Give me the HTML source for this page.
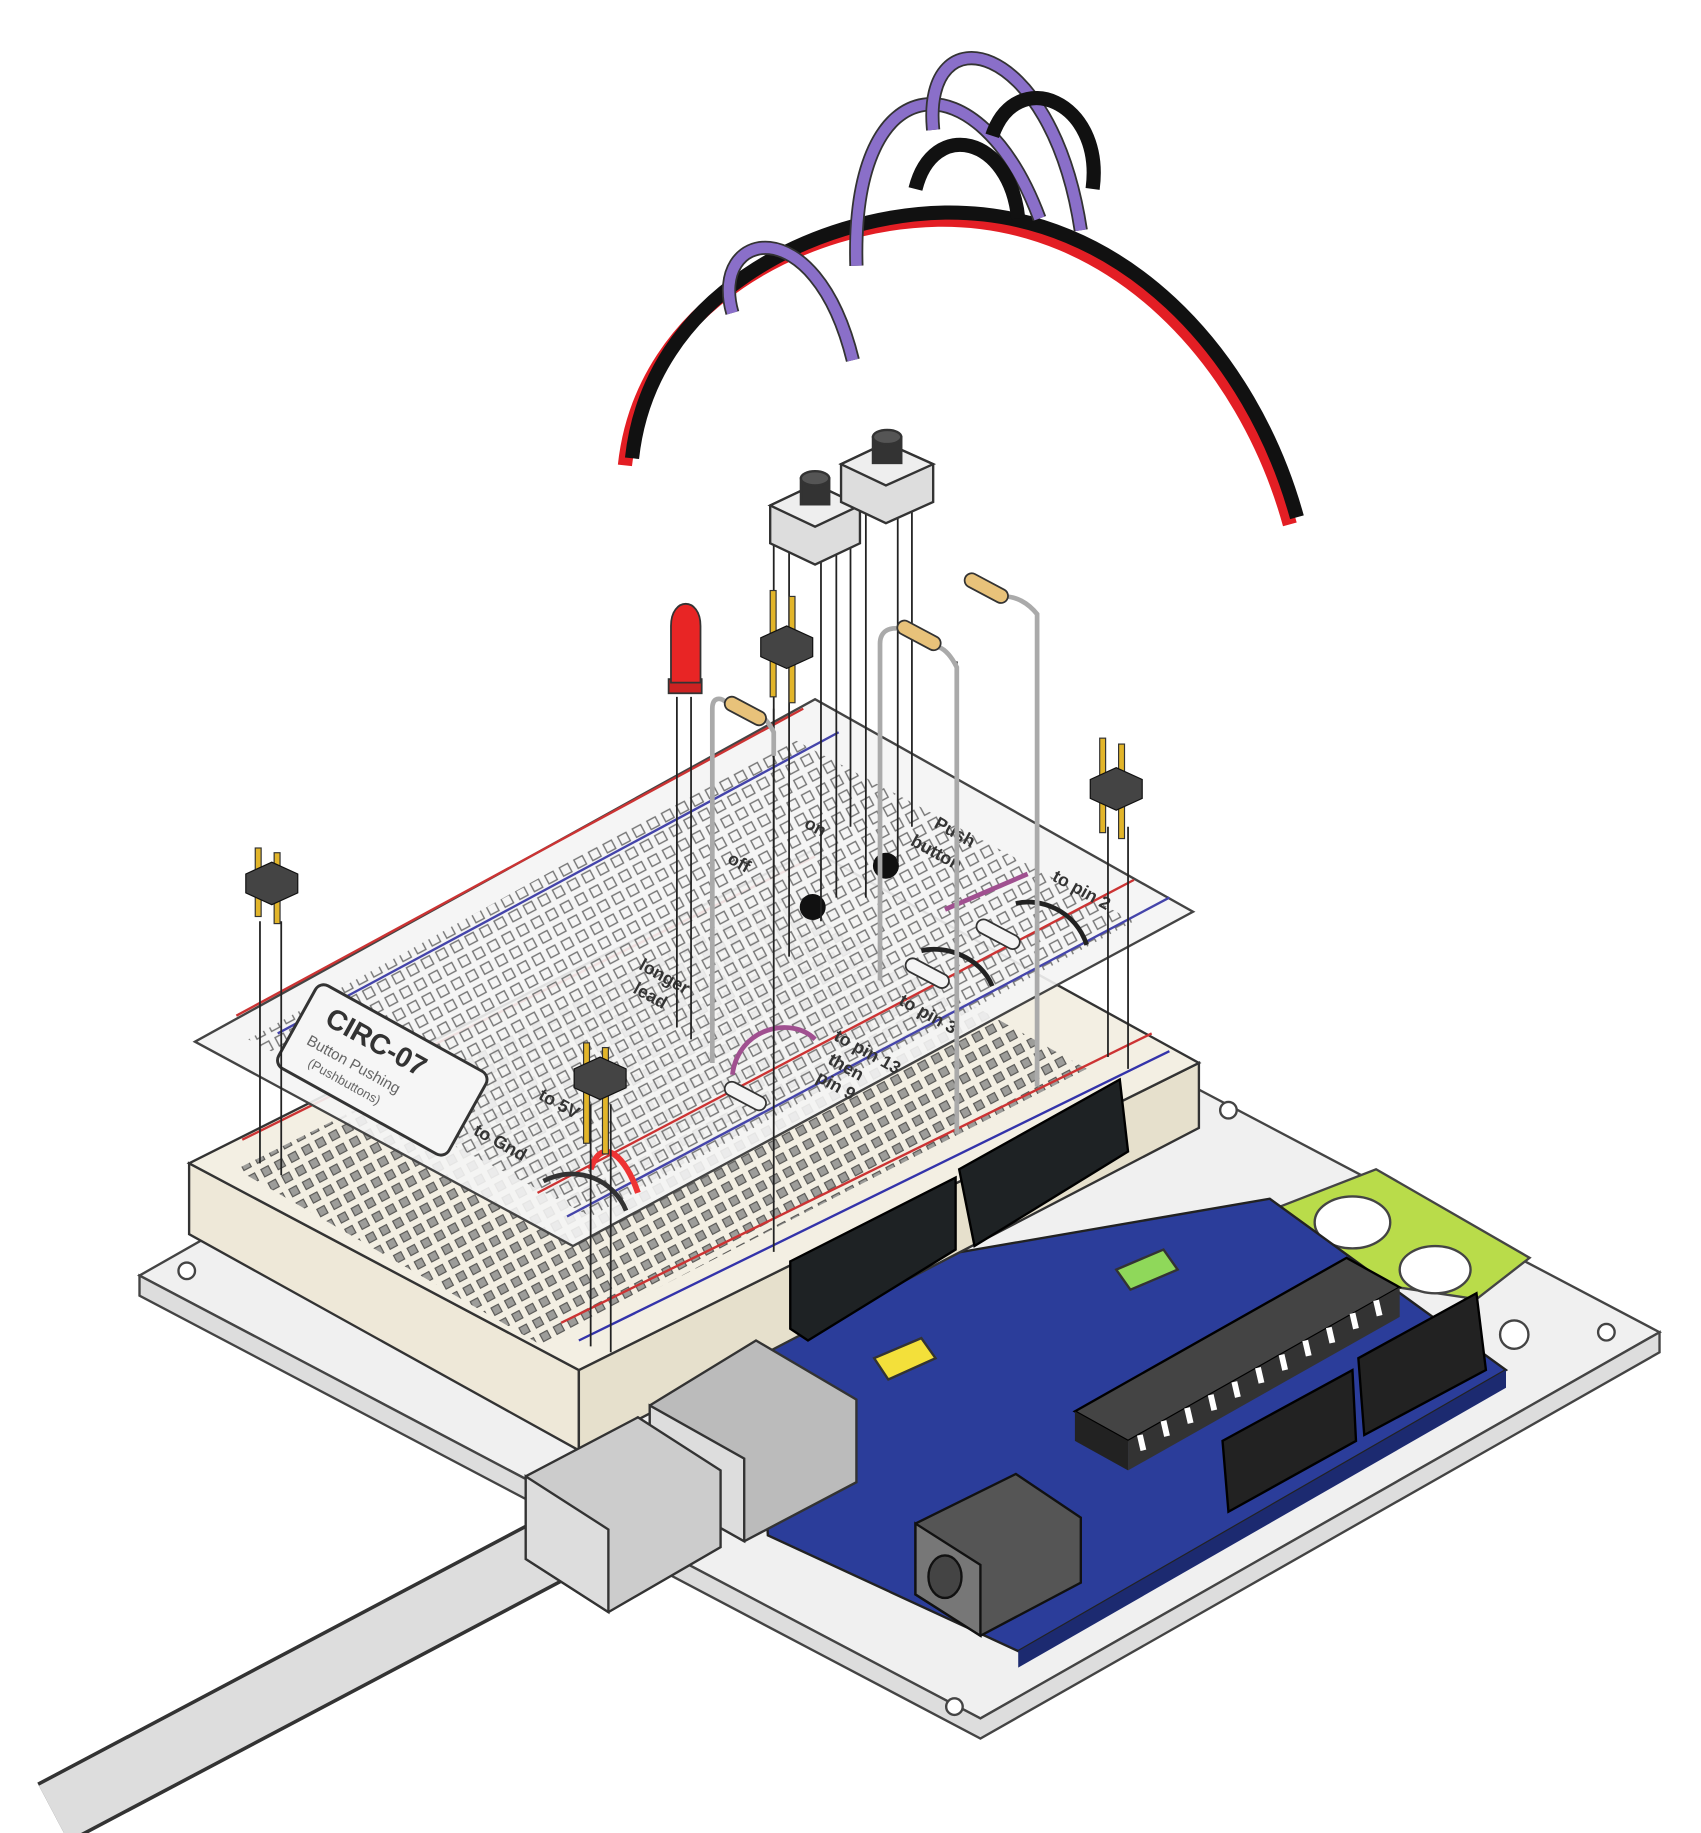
<!DOCTYPE html>
<html><head><meta charset="utf-8"><style>
html,body{margin:0;padding:0;background:#fff;}
svg{display:block;}
text{font-family:"Liberation Sans",sans-serif;}
</style></head><body>
<svg width="1701" height="1833" viewBox="0 0 1440 1552" xmlns="http://www.w3.org/2000/svg">
<defs>
<pattern id="holes" width="14" height="14" patternUnits="userSpaceOnUse" patternTransform="rotate(-28)">
<rect x="3" y="3" width="8" height="8" fill="none" stroke="#777" stroke-width="1.2"/></pattern>
<pattern id="holes2" width="13" height="13" patternUnits="userSpaceOnUse" patternTransform="rotate(-28)">
<rect x="3" y="3" width="7" height="7" fill="#888" stroke="#333" stroke-width="1"/></pattern>
</defs>
<!-- base plate -->
<polygon points="118,1080 693,753 1405,1128 830,1455" fill="#f0f0f0" stroke="#444" stroke-width="2"/>
<polygon points="118,1080 830,1455 1405,1128 1405,1145 830,1472 118,1097" fill="#ddd" stroke="#444" stroke-width="2"/>
<circle cx="158" cy="1076" r="7" fill="#fff" stroke="#444" stroke-width="2"/>
<circle cx="1040" cy="940" r="7" fill="#fff" stroke="#444" stroke-width="2"/>
<circle cx="1360" cy="1128" r="7" fill="#fff" stroke="#444" stroke-width="2"/>
<circle cx="808" cy="1445" r="7" fill="#fff" stroke="#444" stroke-width="2"/>
<circle cx="1282" cy="1130" r="12" fill="#fff" stroke="#444" stroke-width="2"/>
<!-- green pad -->
<polygon points="1075,1025 1165,990 1295,1065 1250,1100 1150,1085" fill="#b9dc4a" stroke="#444" stroke-width="2"/>
<ellipse cx="1145" cy="1035" rx="32" ry="22" fill="#fff" stroke="#444" stroke-width="2"/>
<ellipse cx="1215" cy="1075" rx="30" ry="20" fill="#fff" stroke="#444" stroke-width="2"/>
<!-- arduino -->
<polygon points="640,1090 1075,1015 1275,1160 862,1398 650,1300" fill="#2b3d9a" stroke="#222" stroke-width="2"/>
<polygon points="862,1398 1275,1160 1275,1175 862,1412" fill="#1c2a70"/>
<polygon points="1035,1220 1145,1160 1148,1220 1040,1280" fill="#222" stroke="#000" stroke-width="2"/>
<polygon points="1150,1150 1250,1095 1258,1160 1155,1215" fill="#222" stroke="#000" stroke-width="2"/>
<!-- chip -->
<polygon points="910,1195 1140,1065 1185,1090 955,1220" fill="#444" stroke="#000" stroke-width="2"/>
<polygon points="910,1195 955,1220 955,1245 910,1220" fill="#222"/>
<polygon points="955,1220 1185,1090 1185,1115 955,1245" fill="#333"/>
<g stroke="#fff" stroke-width="5">
<line x1="965" y1="1215" x2="968" y2="1228"/><line x1="985" y1="1203" x2="988" y2="1216"/><line x1="1005" y1="1192" x2="1008" y2="1205"/><line x1="1025" y1="1181" x2="1028" y2="1194"/><line x1="1045" y1="1170" x2="1048" y2="1183"/><line x1="1065" y1="1158" x2="1068" y2="1171"/><line x1="1085" y1="1147" x2="1088" y2="1160"/><line x1="1105" y1="1135" x2="1108" y2="1148"/><line x1="1125" y1="1124" x2="1128" y2="1137"/><line x1="1145" y1="1112" x2="1148" y2="1125"/><line x1="1165" y1="1101" x2="1168" y2="1114"/></g>
<polygon points="740,1150 780,1133 792,1150 752,1168" fill="#f3e03a" stroke="#333" stroke-width="2"/>
<polygon points="945,1075 985,1058 997,1075 957,1092" fill="#8fd85a" stroke="#333" stroke-width="2"/>
<!-- dc jack -->
<polygon points="775,1290 860,1248 915,1285 915,1340 830,1385 775,1350" fill="#555" stroke="#111" stroke-width="2"/>
<polygon points="775,1290 830,1325 830,1385 775,1350" fill="#777" stroke="#111" stroke-width="2"/>
<ellipse cx="800" cy="1335" rx="14" ry="18" fill="#444" stroke="#111" stroke-width="2"/>
<!-- breadboard -->
<polygon points="160,985 160,1045 490,1228 490,1160" fill="#eee8d8" stroke="#333" stroke-width="2"/>
<polygon points="490,1160 1015,900 1015,955 490,1228" fill="#e6e0cc" stroke="#333" stroke-width="2"/>
<polygon points="160,985 688,720 1015,900 490,1160" fill="#f3efe3" stroke="#333" stroke-width="2"/>
<polygon points="200,990 660,760 920,905 460,1140" fill="url(#holes2)" opacity="0.8"/>
<line x1="205" y1="965" x2="690" y2="725" stroke="#c33" stroke-width="2"/>
<line x1="490" y1="1135" x2="990" y2="890" stroke="#33a" stroke-width="2"/>
<line x1="475" y1="1120" x2="975" y2="875" stroke="#c33" stroke-width="2"/>
<!-- arduino headers in front of breadboard -->
<polygon points="669,1068 809,997 809,1058 684,1135 669,1125" fill="#1e2224" stroke="#000" stroke-width="2"/>
<polygon points="812,990 948,914 955,975 825,1055" fill="#1e2224" stroke="#000" stroke-width="2"/>
<!-- usb -->
<polygon points="550,1190 640,1135 725,1185 725,1255 630,1305 550,1260" fill="#bbb" stroke="#333" stroke-width="2"/>
<polygon points="550,1190 630,1235 630,1305 550,1260" fill="#ddd" stroke="#333" stroke-width="2"/>
<line x1="45" y1="1535" x2="480" y2="1305" stroke="#333" stroke-width="58" stroke-linecap="butt"/>
<line x1="45" y1="1535" x2="480" y2="1305" stroke="#ddd" stroke-width="52"/>
<polygon points="445,1250 540,1200 610,1245 610,1310 515,1365 445,1320" fill="#ccc" stroke="#333" stroke-width="2"/>
<polygon points="445,1250 515,1295 515,1365 445,1320" fill="#ddd" stroke="#333" stroke-width="2"/>
<!-- paper overlay -->
<polygon points="165,882 690,592 1010,772 485,1055" fill="#f4f4f4" fill-opacity="0.9" stroke="#444" stroke-width="2"/>
<polygon points="210,880 670,625 960,780 500,1030" fill="url(#holes)"/>
<line x1="200" y1="860" x2="680" y2="600" stroke="#c33" stroke-width="2"/>
<line x1="235" y1="875" x2="710" y2="620" stroke="#44a" stroke-width="2"/>
<line x1="480" y1="1030" x2="990" y2="760" stroke="#44a" stroke-width="2"/>
<line x1="455" y1="1010" x2="960" y2="745" stroke="#c33" stroke-width="2"/>
<g transform="translate(265,862) rotate(29)">
<rect x="-10" y="-30" width="165" height="80" rx="8" fill="#f6f6f6" stroke="#333" stroke-width="2.5"/>
<text x="10" y="0" font-size="24" font-weight="bold" fill="#333">CIRC-07</text>
<text x="5" y="22" font-size="13" fill="#666">Button Pushing</text>
<text x="15" y="38" font-size="11" fill="#666">(Pushbuttons)</text>
</g>
<g font-weight="bold" fill="#333" font-size="15">
<text transform="translate(455,930) rotate(29)">to 5V</text>
<text transform="translate(400,960) rotate(29)">to Gnd</text>
<text transform="translate(540,820) rotate(29)">longer</text>
<text transform="translate(535,840) rotate(29)">lead</text>
<text transform="translate(790,700) rotate(29)">Push</text>
<text transform="translate(770,715) rotate(29)">button</text>
<text transform="translate(705,880) rotate(29)">to pin 13</text>
<text transform="translate(700,900) rotate(29)">then</text>
<text transform="translate(690,915) rotate(29)">pin 9</text>
<text transform="translate(890,745) rotate(29)">to pin 2</text>
<text transform="translate(760,850) rotate(29)">to pin 3</text>
<text transform="translate(615,730) rotate(29)">off</text>
<text transform="translate(680,700) rotate(29)">on</text>
</g>
<!-- small wires on paper -->
<path d="M620,910 C625,870 670,860 690,880" fill="none" stroke="#a05090" stroke-width="4"/>
<path d="M500,990 C510,960 530,980 540,1010" fill="none" stroke="#e33" stroke-width="5"/>
<path d="M460,1000 C490,985 520,1000 530,1025" fill="none" stroke="#333" stroke-width="4"/>
<path d="M800,770 L870,740" stroke="#a05090" stroke-width="4"/>
<path d="M860,765 C880,760 910,770 920,800" fill="none" stroke="#222" stroke-width="4"/>
<path d="M780,805 C800,800 830,810 840,835" fill="none" stroke="#222" stroke-width="4"/>
<circle cx="688" cy="768" r="11" fill="#111"/><circle cx="750" cy="733" r="11" fill="#111"/>
<!-- vertical leads -->
<g stroke="#222" stroke-width="1.5">
<line x1="220" y1="780" x2="220" y2="985"/><line x1="238" y1="780" x2="238" y2="995"/>
<line x1="500" y1="935" x2="500" y2="1140"/><line x1="517" y1="935" x2="517" y2="1145"/>
<line x1="938" y1="700" x2="938" y2="895"/><line x1="955" y1="700" x2="955" y2="905"/>
<line x1="573" y1="590" x2="573" y2="870"/><line x1="585" y1="590" x2="585" y2="880"/>
<line x1="655" y1="450" x2="655" y2="760"/><line x1="668" y1="460" x2="668" y2="810"/>
<line x1="695" y1="460" x2="695" y2="780"/><line x1="708" y1="450" x2="708" y2="760"/>
<line x1="720" y1="420" x2="720" y2="700"/><line x1="733" y1="430" x2="733" y2="760"/>
<line x1="760" y1="430" x2="760" y2="730"/><line x1="772" y1="420" x2="772" y2="700"/>
<line x1="655" y1="600" x2="655" y2="1060"/><line x1="878" y1="530" x2="878" y2="920"/>
<line x1="810" y1="560" x2="810" y2="960"/><line x1="745" y1="540" x2="745" y2="830"/>
<line x1="603" y1="600" x2="603" y2="900"/>
</g>
<path d="M603,900 L603,600 C603,590 610,590 615,595" fill="none" stroke="#aaa" stroke-width="4"/>
<path d="M655,640 L655,620 C650,610 645,605 640,605" fill="none" stroke="#aaa" stroke-width="4"/>
<path d="M745,830 L745,545 C745,530 760,530 770,535" fill="none" stroke="#aaa" stroke-width="4"/>
<path d="M878,920 L878,520 C870,510 860,505 850,505" fill="none" stroke="#aaa" stroke-width="4"/>
<path d="M810,960 L810,565 C805,555 800,550 795,548" fill="none" stroke="#aaa" stroke-width="4"/>
<!-- resistors -->
<g stroke="#333" stroke-width="1.5" fill="#e8c27a">
<rect x="612" y="596" width="38" height="12" rx="6" transform="rotate(28 631 602)"/>
<rect x="758" y="532" width="40" height="12" rx="6" transform="rotate(28 778 538)"/>
<rect x="815" y="492" width="40" height="12" rx="6" transform="rotate(28 835 498)"/>
<rect x="612" y="922" width="38" height="12" rx="6" fill="#f4f4f4" transform="rotate(28 631 928)"/>
<rect x="765" y="818" width="40" height="12" rx="6" fill="#f4f4f4" transform="rotate(28 785 824)"/>
<rect x="825" y="785" width="40" height="12" rx="6" fill="#f4f4f4" transform="rotate(28 845 791)"/>
</g>
<!-- LED -->
<rect x="566" y="575" width="28" height="12" fill="#c22" stroke="#333" stroke-width="1.5"/>
<path d="M568,578 L568,530 C568,505 593,505 593,530 L593,578 Z" fill="#e82525" stroke="#333" stroke-width="1.5"/>
<!-- pushbuttons -->
<g stroke="#333" stroke-width="2">
<polygon points="652,428 690,410 728,428 728,460 690,478 652,460" fill="#ddd"/>
<polygon points="652,428 690,446 728,428 690,410" fill="#eee"/>
<rect x="678" y="405" width="24" height="22" fill="#333"/><ellipse cx="690" cy="405" rx="12" ry="6" fill="#555"/>
<polygon points="712,393 750,375 790,393 790,425 750,443 712,425" fill="#ddd"/>
<polygon points="712,393 750,411 790,393 750,375" fill="#eee"/>
<rect x="739" y="370" width="24" height="22" fill="#333"/><ellipse cx="751" cy="370" rx="12" ry="6" fill="#555"/>
</g>
<!-- pin headers -->
<g>
<g transform="translate(230,740)"><rect x="-14" y="-22" width="5" height="58" fill="#e2b52a" stroke="#333"/><rect x="2" y="-18" width="5" height="60" fill="#e2b52a" stroke="#333"/><polygon points="-22,0 0,-10 22,0 22,16 0,26 -22,16" fill="#444" stroke="#111"/></g>
<g transform="translate(508,905)"><rect x="-14" y="-22" width="5" height="85" fill="#e2b52a" stroke="#333"/><rect x="2" y="-18" width="5" height="90" fill="#e2b52a" stroke="#333"/><polygon points="-22,0 0,-10 22,0 22,16 0,26 -22,16" fill="#444" stroke="#111"/></g>
<g transform="translate(666,540)"><rect x="-14" y="-40" width="5" height="90" fill="#e2b52a" stroke="#333"/><rect x="2" y="-35" width="5" height="90" fill="#e2b52a" stroke="#333"/><polygon points="-22,0 0,-10 22,0 22,16 0,26 -22,16" fill="#444" stroke="#111"/></g>
<g transform="translate(945,660)"><rect x="-14" y="-35" width="5" height="80" fill="#e2b52a" stroke="#333"/><rect x="2" y="-30" width="5" height="80" fill="#e2b52a" stroke="#333"/><polygon points="-22,0 0,-10 22,0 22,16 0,26 -22,16" fill="#444" stroke="#111"/></g>
</g>
<!-- wires above -->
<path d="M535,388 C550,250 690,182 800,180 C950,178 1060,300 1098,438" fill="none" stroke="#e31e24" stroke-width="12" transform="translate(-6,6)"/>
<path d="M535,388 C550,250 690,182 800,180 C950,178 1060,300 1098,438" fill="none" stroke="#111" stroke-width="12"/>
<path d="M620,265 C600,195 690,175 722,305" fill="none" stroke="#333" stroke-width="12"/>
<path d="M620,265 C600,195 690,175 722,305" fill="none" stroke="#8a6fc9" stroke-width="9"/>
<path d="M725,225 C720,50 830,50 880,185" fill="none" stroke="#333" stroke-width="12"/>
<path d="M725,225 C720,50 830,50 880,185" fill="none" stroke="#8a6fc9" stroke-width="9"/>
<path d="M790,110 C780,10 890,30 915,195" fill="none" stroke="#333" stroke-width="12"/>
<path d="M790,110 C780,10 890,30 915,195" fill="none" stroke="#8a6fc9" stroke-width="9"/>
<path d="M775,160 C790,100 855,115 862,185" fill="none" stroke="#111" stroke-width="12"/>
<path d="M840,115 C860,55 935,85 925,160" fill="none" stroke="#111" stroke-width="12"/>
</svg>
</body></html>
